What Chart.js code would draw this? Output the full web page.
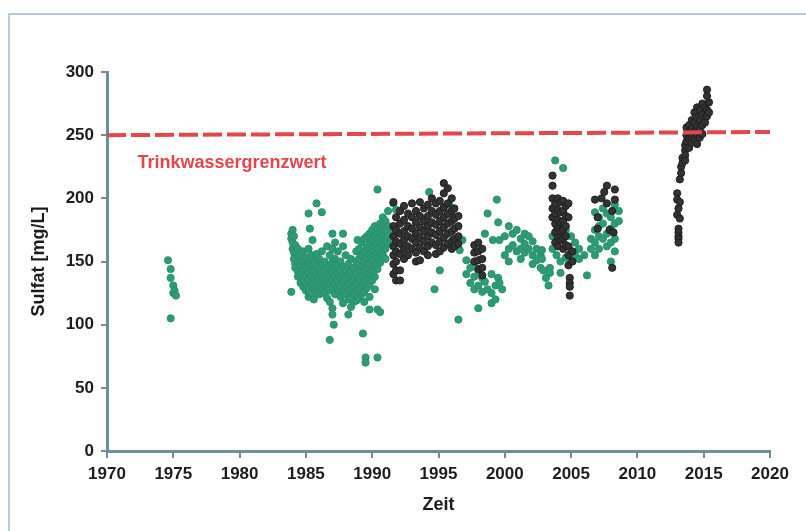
<!DOCTYPE html>
<html>
<head>
<meta charset="utf-8">
<script src="https://cdn.jsdelivr.net/npm/chart.js@4.4.1/dist/chart.umd.min.js"></script>
<style>
  html, body { margin: 0; padding: 0; background: #fff; }
  #wrap { position: relative; width: 806px; height: 531px; }
  #frame { position: absolute; left: 8px; top: 13px; right: 0; bottom: 0;
           border-top: 2px solid #b3ccd7; border-left: 2px solid #b3ccd7; }
  canvas { position: absolute; left: 0; top: 0; }
</style>
</head>
<body>
<div id="wrap">
  <div id="frame"></div>
  <canvas id="chart" width="806" height="531"></canvas>
</div>
<script>
// ─── Data (grouped by sampling date) ─────────────────────────────
const xTicks = [1970, 1975, 1980, 1985, 1990, 1995, 2000, 2005, 2010, 2015, 2020];
const yTicks = [0, 50, 100, 150, 200, 250, 300];
const limitValue = [250, 252.5];   // Trinkwassergrenzwert (left, right end)

const greenYears = [
    1974.6, 1974.8, 1975.0, 1975.1, 1975.2,
    1983.9, 1984.0, 1984.1, 1984.2, 1984.4, 1984.6, 1984.8, 1985.0, 1985.2, 1985.3,
    1985.4, 1985.5, 1985.6, 1985.8, 1986.0, 1986.2, 1986.4, 1986.6, 1986.8, 1987.0,
    1987.1, 1987.2, 1987.4, 1987.6, 1987.8, 1988.0, 1988.2, 1988.4, 1988.6, 1988.8,
    1988.9, 1989.0, 1989.2, 1989.3, 1989.4, 1989.5, 1989.6, 1989.8, 1990.0, 1990.2,
    1990.4, 1990.6, 1990.8, 1991.0, 1991.2, 1991.5, 1991.6, 1991.8,
    1994.3, 1994.7, 1995.1, 1995.8, 1996.0, 1996.5,
    1996.6, 1996.8, 1997.1, 1997.4, 1997.7, 1998.0, 1998.3, 1998.5, 1998.7, 1999.0,
    1999.1, 1999.3, 1999.4, 1999.5, 1999.6, 1999.8, 2000.0, 2000.3, 2000.6, 2000.9,
    2001.2, 2001.5, 2001.8, 2002.1, 2002.4, 2002.7, 2002.9, 2003.1, 2003.3,
    2003.8, 2004.4, 2002.8, 2003.4, 2003.6, 2003.9, 2004.2, 2004.6, 2005.0, 2005.3,
    2005.6, 2006.0, 2006.2, 2006.5, 2006.8, 2007.1, 2007.4, 2007.7, 2008.0, 2008.3, 2008.6
];
const greenValues = [
    [151], [144, 137, 105], [131, 125], [127], [123],
    [172, 168, 126], [175, 165, 160], [170, 157, 152], [163, 148, 145], [160, 150, 142, 138],
    [155, 147, 140, 133], [158, 150, 143, 136, 130], [153, 146, 139, 132, 127],
    [188, 160, 149, 141, 135, 128, 122], [176],
    [155, 147, 138, 131, 125], [167], [150, 143, 136, 129, 120], [196, 156, 146, 139, 133, 126],
    [152, 144, 137, 130, 124], [189, 158, 148, 140, 134, 128], [150, 143, 136, 131, 125],
    [162, 145, 138, 132, 121], [155, 147, 140, 134, 127, 118, 88], [172, 160, 150, 142, 136, 130, 113, 108],
    [100], [165, 152, 145, 138, 132, 124], [158, 148, 141, 135, 128], [150, 143, 137, 131, 122],
    [172, 162, 146, 139, 133, 126, 117], [155, 145, 137, 130, 124], [148, 140, 133, 127, 120, 108],
    [152, 142, 135, 128, 121, 114], [145, 138, 131, 125, 118], [158, 150, 140, 133, 126, 119],
    [167], [160, 152, 144, 136, 128, 121], [165, 155, 147, 139, 131, 124], [93],
    [168, 158, 150, 142, 134, 126, 118], [74, 70], [170, 161, 153, 145, 137, 129],
    [172, 164, 156, 148, 140, 132, 122, 112], [175, 167, 159, 151, 143, 135],
    [178, 170, 162, 154, 146, 138, 128],
    [207, 176, 168, 160, 152, 144, 112, 74], [180, 172, 165, 157, 149, 110], [185, 178, 170, 163, 155],
    [182, 175, 167, 160, 152], [190, 178, 170, 164], [175, 168], [196], [191],
    [205], [128], [143], [195], [186], [104],
    [159], [167], [151, 140], [145, 133], [149, 138, 128], [143, 131, 113], [137, 126], [172, 134],
    [188, 128], [140, 125, 117],
    [167], [131, 120], [199], [181, 137], [167, 133], [128], [170, 155], [178, 160, 150], [172, 163],
    [175, 158],
    [168, 160, 152], [172, 164, 157], [170, 160], [166, 155, 148], [160, 151], [155, 145], [143], [137], [131],
    [230], [224], [159, 152], [145, 141], [185, 170, 160], [178, 165, 155], [180, 168, 150, 141],
    [175, 162, 153], [170, 158, 150], [165, 155],
    [160, 152], [155], [139], [168, 160], [189, 175, 165, 155], [185, 178, 170, 160], [192, 180, 168],
    [188, 172, 162], [185, 176, 165, 150], [195, 180, 168, 158], [190, 182]
];

const darkYears = [
    1991.6, 1991.8, 1992.1, 1992.4, 1992.7, 1993.0, 1993.3, 1993.6, 1993.9, 1994.2,
    1994.5, 1994.8, 1995.1, 1995.4, 1995.7, 1996.0, 1996.2, 1996.5,
    1997.7, 1998.0, 1998.3,
    2003.6, 2003.8, 2004.0, 2004.2, 2004.4, 2004.6, 2004.8, 2004.9, 2005.1,
    2006.8, 2007.0, 2007.3, 2007.5, 2007.7, 2007.9, 2008.1, 2008.2, 2008.3,
    2013.0, 2013.1, 2013.2, 2013.3, 2013.4, 2013.6, 2013.7, 2013.9, 2014.1, 2014.3,
    2014.5, 2014.7, 2014.9, 2015.1, 2015.25, 2015.4
];
const darkValues = [
    [197, 178, 170, 162, 155, 148, 140], [185, 175, 166, 158, 150, 143, 135], [190, 180, 172, 164, 156, 143, 135],
    [194, 183, 174, 167, 160, 152], [188, 178, 170, 162, 155], [196, 185, 176, 168, 160],
    [190, 181, 172, 165, 157, 150], [197, 186, 177, 169, 161, 151], [192, 182, 174, 166, 158],
    [195, 186, 178, 170, 162, 155], [200, 190, 181, 173, 165], [196, 187, 179, 171, 163, 156],
    [198, 190, 182, 174, 166, 158], [212, 204, 193, 185, 177, 169, 161], [208, 196, 188, 180, 172, 164],
    [200, 190, 182, 174, 166, 160], [192, 184, 176, 168, 162], [186, 178, 170, 164],
    [163, 157, 150], [165, 158, 151, 144], [160, 152, 145, 139],
    [218, 210, 200, 192, 185], [196, 188, 180, 173, 165], [200, 191, 183, 176, 169, 162],
    [197, 189, 181, 174, 167], [198, 190, 182, 175, 168, 160], [194, 186, 178, 170, 163],
    [196, 185, 162, 155, 147], [137, 133, 130, 123], [158, 150],
    [199], [185, 176], [200], [205], [210, 196], [175], [190, 145], [173], [207, 199],
    [204, 199, 187], [192, 176, 173, 170, 168, 165], [215, 197, 184], [225, 220], [228, 232],
    [238, 234, 230, 242], [250, 245, 256], [247, 240, 252, 258], [262, 255, 248, 244],
    [268, 260, 253, 247], [272, 264, 257, 250, 243], [270, 262, 255, 248], [275, 266, 258, 251],
    [272, 264, 260], [286, 281, 270, 265], [276, 268]
];

// ─── Helpers ─────────────────────────────────────────────────────
function toPoints(years, values) {
    const pts = [];
    years.forEach((yr, i) => values[i].forEach(v => pts.push({ x: yr, y: v })));
    return pts;
}

const FONT = "'Liberation Sans', Arial, sans-serif";
const AXIS_COLOR = "#6f8e9b";
const RED = "#e2474c";
const TEXT = "#1c1c1c";

// label for the limit line
const limitLabel = {
    id: "limitLabel",
    afterDatasetsDraw(chart) {
        const { ctx, scales } = chart;
        ctx.save();
        ctx.font = "bold 18px " + FONT;
        ctx.fillStyle = RED;
        ctx.textBaseline = "middle";
        ctx.fillText("Trinkwassergrenzwert", scales.x.getPixelForValue(1972.3), scales.y.getPixelForValue(228));
        ctx.restore();
    }
};

Chart.defaults.font.family = FONT;
Chart.defaults.color = TEXT;

new Chart(document.getElementById("chart"), {
    type: "scatter",
    data: {
        datasets: [
            {
                type: "line",
                label: "Trinkwassergrenzwert",
                data: [{ x: xTicks[0], y: limitValue[0] }, { x: xTicks[xTicks.length - 1], y: limitValue[1] }],
                borderColor: RED,
                borderWidth: 4,
                borderDash: [19, 5],
                pointRadius: 0,
                fill: false,
                order: 0
            },
            {
                label: "dark",
                data: toPoints(darkYears, darkValues),
                backgroundColor: "#333333",
                borderColor: "#1d1d1d",
                borderWidth: 1,
                pointRadius: 3.6,
                order: 1
            },
            {
                label: "green",
                data: toPoints(greenYears, greenValues),
                backgroundColor: "#2e9b77",
                borderColor: "#2a8f6e",
                borderWidth: 1,
                pointRadius: 3.6,
                order: 2
            }
        ]
    },
    options: {
        responsive: false,
        animation: false,
        events: [],
        layout: { padding: { top: 72, right: 36, left: 0, bottom: 0 } },
        plugins: { legend: { display: false }, tooltip: { enabled: false } },
        scales: {
            x: {
                type: "linear",
                min: 1970,
                max: 2020,
                afterFit: s => { s.height = 80; },
                afterBuildTicks: s => { s.ticks = xTicks.map(v => ({ value: v })); },
                ticks: { font: { size: 17, weight: "bold" }, padding: 6, color: TEXT, callback: v => String(v) },
                grid: { drawOnChartArea: false, drawTicks: true, tickLength: 7, color: AXIS_COLOR, lineWidth: 2 },
                border: { display: true, color: AXIS_COLOR, width: 3 },
                title: { display: true, text: "Zeit", font: { size: 18, weight: "bold" }, color: TEXT, padding: { bottom: 15 } }
            },
            y: {
                min: 0,
                max: 300,
                afterFit: s => { s.width = 107; },
                afterBuildTicks: s => { s.ticks = yTicks.map(v => ({ value: v })); },
                ticks: { font: { size: 17, weight: "bold" }, padding: 7, color: TEXT, callback: v => String(v) },
                grid: { drawOnChartArea: false, drawTicks: true, tickLength: 6, color: AXIS_COLOR, lineWidth: 2 },
                border: { display: true, color: AXIS_COLOR, width: 3 },
                title: { display: true, text: "Sulfat [mg/L]", font: { size: 18, weight: "bold" }, color: TEXT, padding: { top: 28 } }
            }
        }
    },
    plugins: [limitLabel]
});
</script>
</body>
</html>
